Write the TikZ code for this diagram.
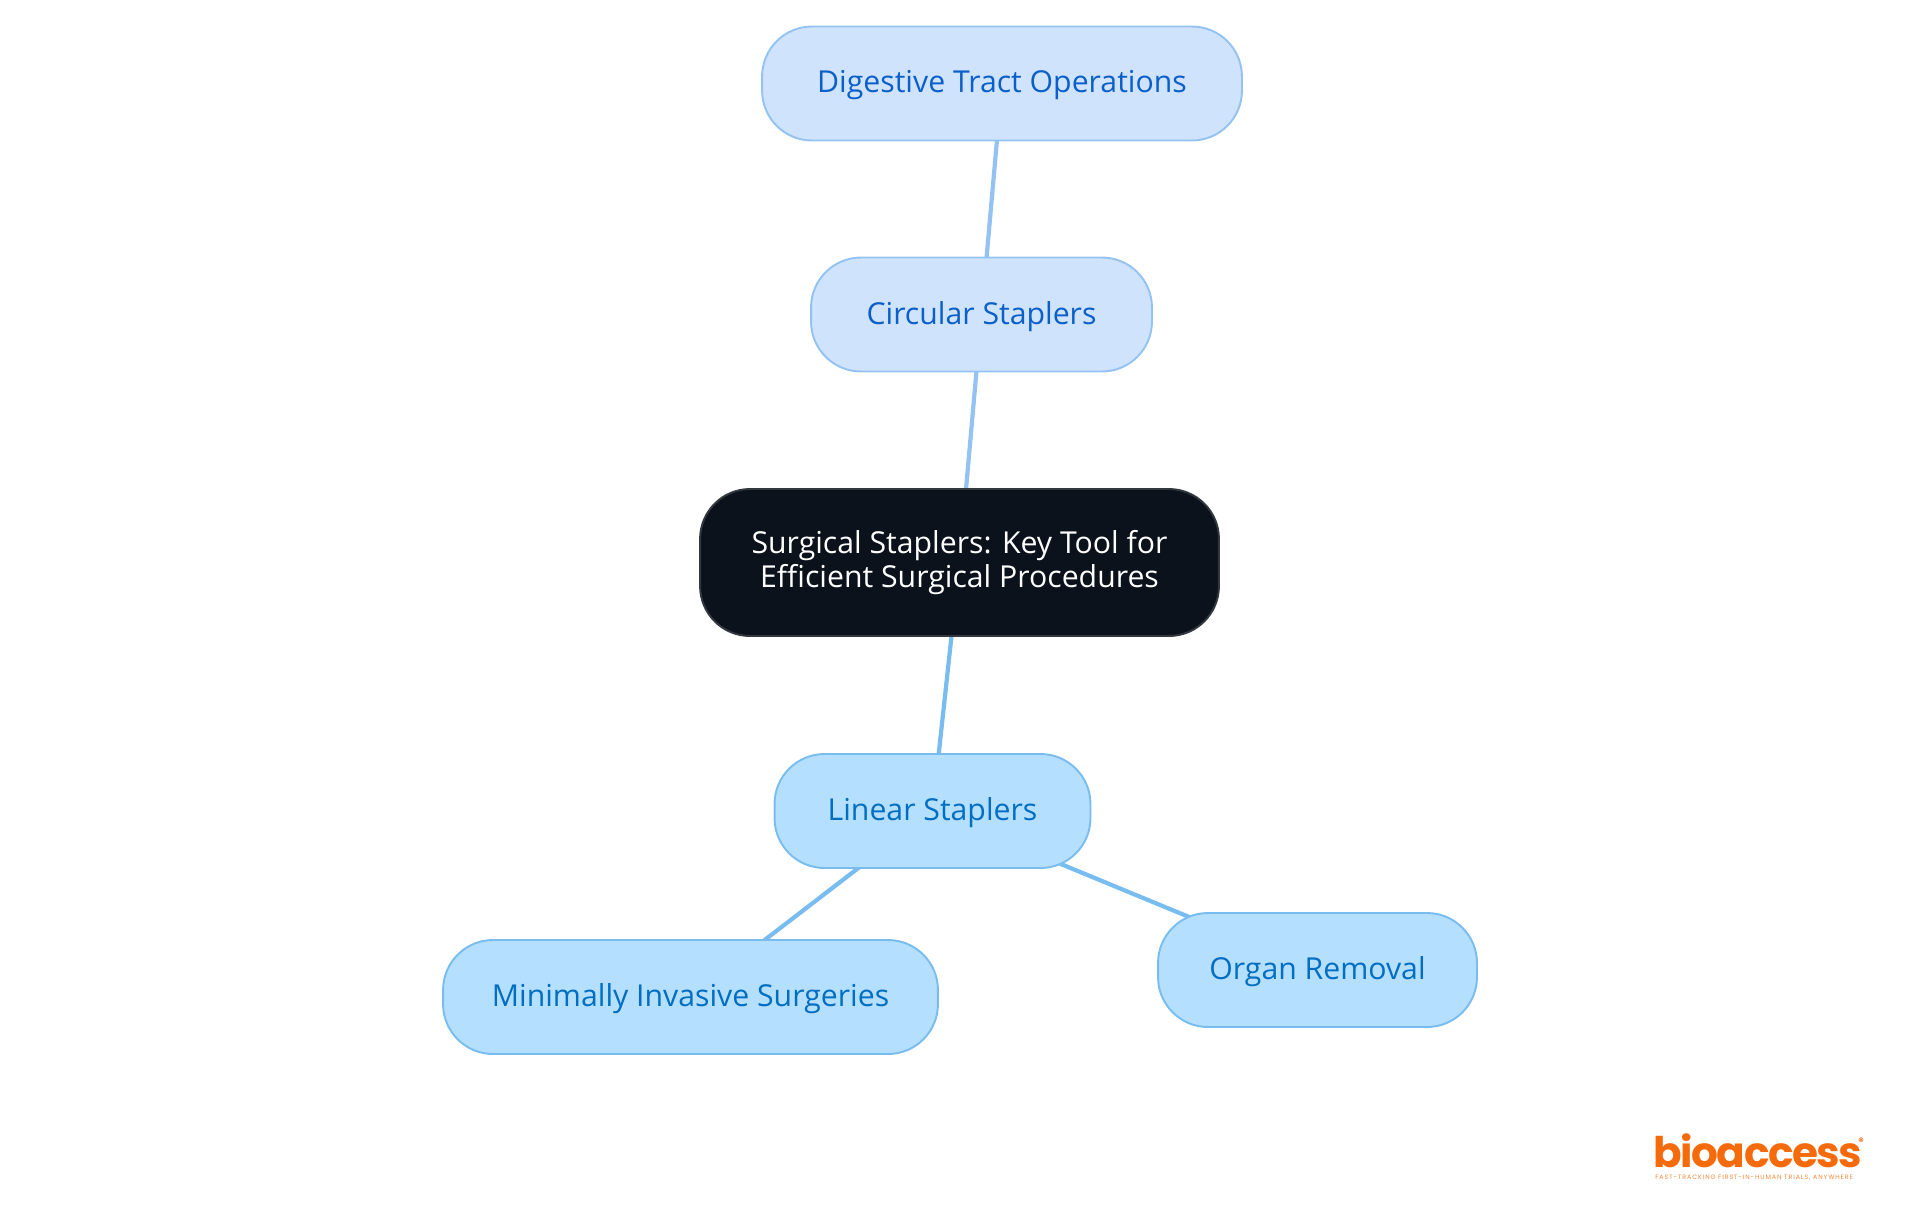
\documentclass[tikz,border=0pt]{standalone}
\usepackage{fontspec}
\setmainfont{Open Sans}
\newfontfamily\logofont[LetterSpace=-3.5]{Poppins}
\newfontfamily\tagfont[LetterSpace=14.5]{Poppins}
\usetikzlibrary{backgrounds}
\definecolor{rootfill}{HTML}{0B121B}
\definecolor{rootline}{HTML}{33383F}
\definecolor{paleblue}{HTML}{CFE3FC}
\definecolor{paleline}{HTML}{94C3F3}
\definecolor{paletext}{HTML}{0B5FC9}
\definecolor{skyblue}{HTML}{B5DFFF}
\definecolor{skyline}{HTML}{79BDF0}
\definecolor{skytext}{HTML}{006EC2}
\definecolor{logoorange}{HTML}{F56A0A}
\tikzset{
    mapnode/.style={draw,line width=1.1pt,rounded corners=1cm,align=center,minimum height=2.28cm,inner sep=0pt,font=\fontsize{17.2pt}{19.7pt}\selectfont},
    rootnode/.style={mapnode,fill=rootfill,draw=rootline,text=white,minimum height=2.94cm},
    palenode/.style={mapnode,fill=paleblue,draw=paleline,text=paletext,text depth=2pt},
    skynode/.style={mapnode,fill=skyblue,draw=skyline,text=skytext,text depth=2pt}
}
\begin{document}
\begin{tikzpicture}[x=0.02cm,y=-0.02cm]
        \useasboundingbox (0,0) rectangle (1920,1215);
        \node[rootnode,minimum width=10.38cm] (root) at (959.5,562.5) {Surgical Staplers: Key Tool for\\Efficient Surgical Procedures};
        \node[palenode,minimum width=6.82cm] (circular) at (981.5,314.5) {Circular Staplers};
        \node[palenode,minimum width=9.6cm] (digestive) at (1002,83.5) {Digestive Tract Operations};
        \node[skynode,minimum width=6.32cm] (linear) at (932.5,811) {Linear Staplers};
        \node[skynode,minimum width=9.9cm] (minimally) at (690.5,997) {Minimally Invasive Surgeries};
        \node[skynode,minimum width=6.38cm] (organ) at (1317.5,970) {Organ Removal};
        \begin{scope}[on background layer]
            \draw[paleline,line width=2.4pt] (root.center) -- (circular.center) -- (digestive.center);
            \draw[skyline,line width=2.4pt] (root.center) -- (linear.center);
            \draw[skyline,line width=2.4pt] (linear.center) -- (minimally.center);
            \draw[skyline,line width=2.4pt] (linear.center) -- (organ.center);
        \end{scope}
        \node[anchor=base west,inner sep=0pt,text=logoorange,font=\logofont\bfseries\fontsize{24pt}{24pt}\selectfont] (logo) at (1653,1167) {bioaccess};
        \node[anchor=center,inner sep=0pt,text=logoorange,font=\logofont\bfseries\fontsize{6pt}{6pt}\selectfont] (mark) at (1861,1142) {®};
        \node[anchor=base west,inner sep=0pt,text=logoorange!80,font=\tagfont\fontsize{3.6pt}{4pt}\selectfont] (tagline) at (1655,1179) {FAST-TRACKING FIRST-IN-HUMAN TRIALS, ANYWHERE};
    \end{tikzpicture}
\end{document}
